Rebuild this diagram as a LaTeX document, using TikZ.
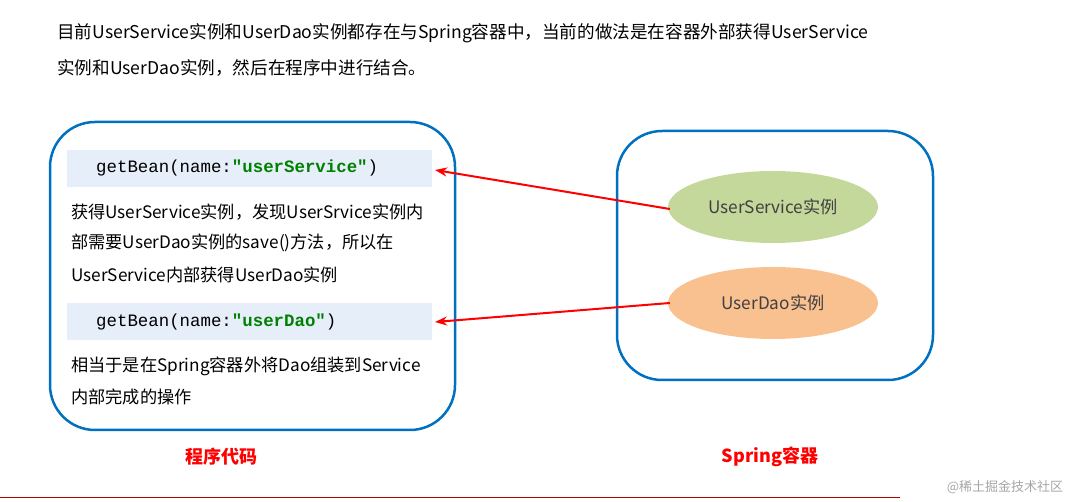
\documentclass[tikz,border=0pt]{standalone}
\usepackage{fontspec}
\setmainfont{Noto Sans CJK SC}
\newfontfamily\mymono{Liberation Mono}
\begin{document}
\begin{tikzpicture}[x=1pt,y=-1pt,
  box/.style={draw={rgb,255:red,0;green,112;blue,192},line width=2.5pt,rounded corners=45pt},
  code/.style={fill={rgb,255:red,230;green,238;blue,250},minimum width=365pt,minimum height=37pt,anchor=north west,inner sep=0pt},
  para/.style={anchor=west,font=\fontsize{17.2}{20}\selectfont,inner sep=0pt},
  ell/.style={ellipse,minimum width=210pt,minimum height=72pt,font=\fontsize{17.2}{20}\selectfont,text={rgb,255:red,64;green,64;blue,64}},
  arr/.style={red,line width=2pt,-{Stealth[length=12pt,width=9pt]}},
  lab/.style={red,font=\bfseries\fontsize{18}{20}\selectfont}]
\usetikzlibrary{shapes.geometric,arrows.meta}
\useasboundingbox (0,0) rectangle (1090,502);
\node[para,font=\fontsize{17.6}{20}\selectfont] (t1) at (57,33) {目前UserService实例和UserDao实例都存在与Spring容器中，当前的做法是在容器外部获得UserService};
\node[para,font=\fontsize{17.6}{20}\selectfont] (t2) at (57,68) {实例和UserDao实例，然后在程序中进行结合。};
\draw[box] (50,122) rectangle (455,430);
\draw[box] (617,131) rectangle (933,380);
\node[code] (c1) at (67,150) {};
\node[anchor=west,inner sep=0pt,font=\mymono\fontsize{17.4}{18}\selectfont] (g1) at (96,168) {getBean(name:\textcolor[rgb]{0,0.5,0}{\bfseries"userService"})};
\node[code] (c2) at (67,303) {};
\node[anchor=west,inner sep=0pt,font=\mymono\fontsize{17.4}{18}\selectfont] (g2) at (96,322) {getBean(name:\textcolor[rgb]{0,0.5,0}{\bfseries"userDao"})};
\node[para] (p1) at (71,212) {获得UserService实例，发现UserSrvice实例内};
\node[para] (p2) at (71,243) {部需要UserDao实例的save()方法，所以在};
\node[para] (p3) at (71,275) {UserService内部获得UserDao实例};
\node[para] (p4) at (71,366) {相当于是在Spring容器外将Dao组装到Service};
\node[para] (p5) at (71,397) {内部完成的操作};
\node[ell,fill={rgb,255:red,197;green,216;blue,155}] (e1) at (773,207) {UserService实例};
\node[ell,fill={rgb,255:red,249;green,192;blue,144}] (e2) at (773,303) {UserDao实例};
\coordinate (a1) at (435,170);
\coordinate (a2) at (435,322);
\draw[arr] (e1.west) ++(2,2) -- (a1);
\draw[arr] (e2.west) ++(2,0) -- (a2);
\node[lab] (l1) at (221,457) {程序代码};
\node[lab] (l2) at (770,457) {Spring容器};
\draw[red!70!black,line width=1pt] (0,497) -- (900,497);
\node[text=gray!70,font=\fontsize{13}{14}\selectfont] (wm) at (1005,487) {@稀土掘金技术社区};
\end{tikzpicture}
\end{document}
